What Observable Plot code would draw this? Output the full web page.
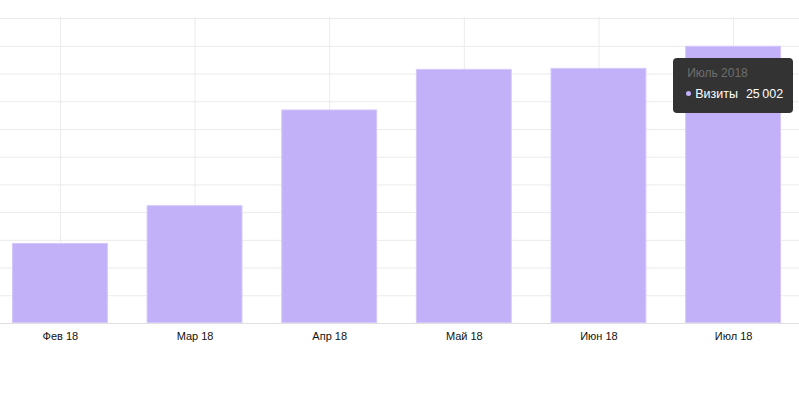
<!DOCTYPE html>
<html>
<head>
<meta charset="utf-8">
<script src="https://cdn.jsdelivr.net/npm/d3@7"></script>
<script src="https://cdn.jsdelivr.net/npm/@observablehq/plot@0.6"></script>
<style>
  html, body { margin: 0; padding: 0; background: #fff; }
  #chart { position: relative; width: 799px; height: 394px; font-family: "Liberation Sans", Arial, sans-serif; }
  #chart svg { display: block; }
  .tip { position: absolute; background: #333333; border-radius: 4px; color: #fff; box-sizing: border-box; width: 120px; height: 55px; padding: 8px 0 0 14px; font-family: "Liberation Sans", Arial, sans-serif; }
  .tip .t { color: #6e6e6e; font-size: 12px; line-height: 14px; }
  .tip .r { margin-top: 7px; font-size: 12.5px; line-height: 15px; white-space: nowrap; }
  .tip .dot { display: inline-block; width: 5px; height: 5px; border-radius: 50%; background: #c2b1f9; margin: 0 4px 2px -1px; vertical-align: middle; }
  .tip .v { margin-left: 8px; }
</style>
</head>
<body>
<div id="chart"></div>
<script>
const months = ["Фев 18", "Мар 18", "Апр 18", "Май 18", "Июн 18", "Июл 18"];
const visits = [7220, 10630, 19260, 22920, 23010, 25002];
const gridTicks = [0, 2500, 5000, 7500, 10000, 12500, 15000, 17500, 20000, 22500, 25000, 27500];
const tipTitle = "Июль 2018";
const seriesName = "Визиты";

const data = months.map((m, i) => ({month: m, value: visits[i]}));

const plot = Plot.plot({
  width: 799,
  height: 394,
  marginTop: 17,
  marginBottom: 71,
  marginLeft: 0,
  marginRight: 0,
  style: {fontFamily: "'Liberation Sans', Arial, sans-serif", fontSize: "11px", color: "#111", background: "#fff"},
  x: {domain: months, range: [12, 781], round: false, paddingInner: 0.288, paddingOuter: 0, label: null},
  y: {domain: [0, 27600], axis: null},
  marks: [
    Plot.ruleY(gridTicks.filter(d => d > 0), {stroke: "#ebebeb", strokeWidth: 1}),
    Plot.tickX(months, {x: d => d, y1: 0, y2: 27500, stroke: "#ebebeb", strokeWidth: 1}),
    Plot.barY(data, {x: "month", y: "value", fill: "#c2b1f9", stroke: "#d3c7fb", strokeWidth: 1, inset: 0.5}),
    Plot.ruleY([0], {stroke: "#e0e0e0", strokeWidth: 1}),
    Plot.axisX({tickSize: 0, tickPadding: 9, fontSize: 11, fill: "#111", label: null})
  ]
});

const chart = document.getElementById("chart");
chart.appendChild(plot);

// extend horizontal grid lines across the whole width
plot.querySelectorAll("line").forEach(l => {
  if (l.getAttribute("y1") === l.getAttribute("y2") && l.getAttribute("x1") !== null) {
    l.setAttribute("x1", 0); l.setAttribute("x2", 799);
  }
});

const xs = plot.scale("x");
const ys = plot.scale("y");
const last = data[data.length - 1];
const tip = document.createElement("div");
tip.className = "tip";
tip.style.left = (xs.apply(last.month) - 12) + "px";
tip.style.top = (ys.apply(last.value) + 12) + "px";
const fmt = v => d3.format(",")(v).replace(/,/g, "\u2009");
tip.innerHTML = `<div class="t">${tipTitle}</div><div class="r"><span class="dot"></span>${seriesName}<span class="v">${fmt(last.value)}</span></div>`;
chart.appendChild(tip);
</script>
</body>
</html>
